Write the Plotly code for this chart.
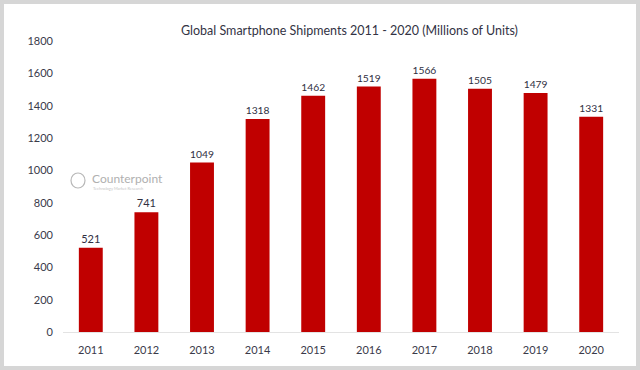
import plotly.graph_objects as go

years = ["2011", "2012", "2013", "2014", "2015", "2016", "2017", "2018", "2019", "2020"]
shipments = [521, 741, 1049, 1318, 1462, 1519, 1566, 1505, 1479, 1331]
y_ticks = [0, 200, 400, 600, 800, 1000, 1200, 1400, 1600, 1800]

W, H = 640, 370
L, R, T, B = 63, 21, 41, 38
pw, ph = W - L - R, H - T - B

def px_x(x):
    return (x - L) / pw

def px_y(y):
    return (H - B - y) / ph

font_family = "Lato, 'Open Sans', sans-serif"

fig = go.Figure()
fig.add_trace(go.Bar(
    x=years, y=shipments,
    marker=dict(color="#C00000", line=dict(width=0)),
    text=[str(v) for v in shipments],
    textposition="outside",
    textfont=dict(size=11, color="#2f2f3f", family=font_family),
    cliponaxis=False,
))

shapes = [
    dict(type="rect", xref="paper", yref="paper",
         x0=px_x(4), x1=px_x(W - 4), y0=px_y(H - 4), y1=px_y(4),
         fillcolor="white", line=dict(width=0), layer="below"),
    dict(type="circle", xref="paper", yref="paper",
         x0=px_x(71), x1=px_x(85), y0=px_y(188), y1=px_y(173),
         line=dict(color="#b8b8b8", width=1.2), fillcolor="rgba(0,0,0,0)"),
]

annotations = [
    dict(text="Global Smartphone Shipments 2011 - 2020 (Millions of Units)",
         xref="paper", yref="paper", x=px_x(349), y=px_y(31),
         xanchor="center", yanchor="middle", showarrow=False,
         font=dict(size=12.5, color="#333344", family=font_family)),
    dict(text="Counterpoint", xref="paper", yref="paper",
         x=px_x(90), y=px_y(178), xanchor="left", yanchor="middle",
         showarrow=False, font=dict(size=12, color="#b0b0b0", family=font_family)),
    dict(text="Technology Market Research", xref="paper", yref="paper",
         x=px_x(91), y=px_y(188), xanchor="left", yanchor="middle",
         showarrow=False, font=dict(size=4, color="#c8c8c8", family=font_family)),
]

fig.update_layout(
    width=W, height=H,
    margin=dict(l=L, r=R, t=T, b=B, pad=0),
    paper_bgcolor="#d6d6d6",
    plot_bgcolor="white",
    showlegend=False,
    bargap=0.57,
    shapes=shapes,
    annotations=annotations,
    xaxis=dict(
        type="category", showgrid=False, zeroline=False,
        showline=True, linecolor="#e3e3e3", linewidth=1,
        ticks="", ticklabelstandoff=8,
        tickfont=dict(size=11, color="#3a3a4a", family=font_family),
    ),
    yaxis=dict(
        range=[0, 1800], tickvals=y_ticks, ticktext=[str(v) for v in y_ticks],
        showgrid=False, zeroline=False, showline=False,
        ticks="", ticklabelstandoff=9,
        tickfont=dict(size=11, color="#3a3a4a", family=font_family),
    ),
)

fig.write_html(
    "out.html",
    config={"displayModeBar": False},
    post_script="document.body.style.margin='0';document.body.style.overflow='hidden';",
)
